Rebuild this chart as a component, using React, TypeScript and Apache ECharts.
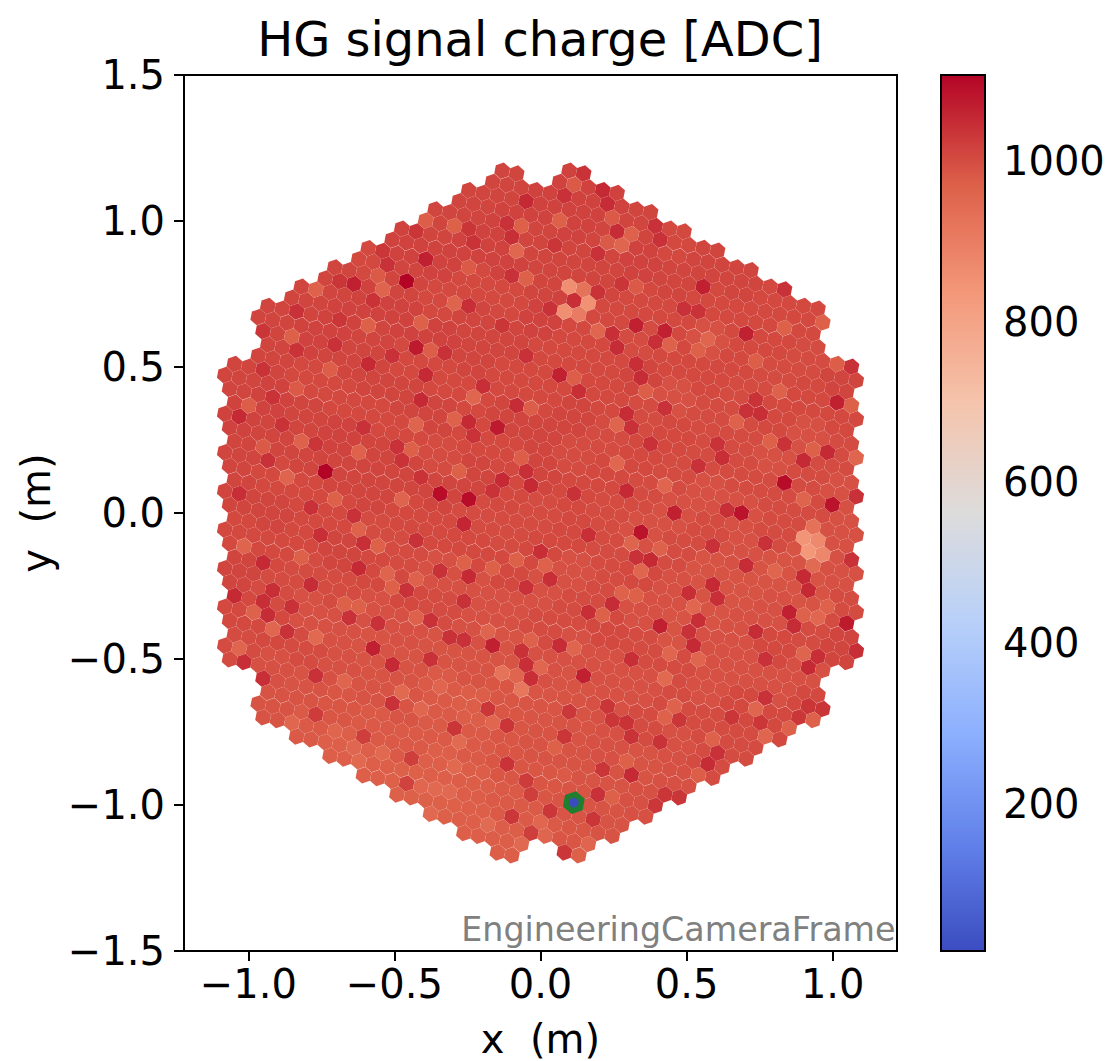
import React, { useEffect, useRef } from "react";
import * as echarts from "echarts";

const TITLE = "HG signal charge [ADC]";
const FRAME_LABEL = "EngineeringCameraFrame";
const X_TICKS = [-1, -0.5, 0, 0.5, 1];
const Y_TICKS = [-1.5, -1, -0.5, 0, 0.5, 1, 1.5];
const BAR_TICKS = [200, 400, 600, 800, 1000];
const VMIN = 17;
const VMAX = 1107;
const COOLWARM: [number, string][] = [
  [0, "#3b4cc0"], [0.125, "#6282ea"], [0.25, "#8db0fe"], [0.375, "#b8d0f9"], [0.5, "#dddcdc"],
  [0.625, "#f5c4ac"], [0.75, "#f4987a"], [0.875, "#dd6049"], [1, "#b40426"],
];

// Regional tone of each 7-pixel camera module, column by column (left to right), top to bottom.
const moduleLevelColumns: number[][] = [
  [1010,1015,1010,1010,1005,1010,1005,1000],
  [1010,1010,1015,1010,1005,1010,1005,1000,1005,995,990],
  [1010,1015,1005,1010,1010,1005,1005,1000,995,1000,990,980],
  [1010,1015,1010,1005,1015,1010,1005,1010,1000,995,995,985,972],
  [1005,1015,1010,1010,1005,1010,1010,1000,1005,995,990,990,980,972],
  [1015,1010,1015,1005,1010,1005,1010,1005,1000,1005,995,990,988,980,970],
  [1010,1015,1005,1015,1005,1010,1000,1010,1005,995,1000,990,980,980,972,970],
  [1010,1015,1005,1010,1010,1005,1005,1010,1000,1005,995,995,990,975,980,975,972],
  [1010,1015,1015,1005,1010,1005,1010,1005,1005,1000,1005,995,990,985,985,985,980,975],
  [1015,1010,1010,1015,1005,1005,1010,1010,1000,1005,995,1000,995,988,990,985,980],
  [1015,1015,1010,1015,1005,1005,1010,1000,1005,1005,995,1000,995,990,990,990,988,985],
  [1015,1010,1010,1005,1005,1005,1000,1005,1000,1000,1000,1005,995,995,995,990,990],
  [1010,1015,1005,1000,1010,1000,1005,1000,995,1005,995,1000,995,1000,990,995],
  [1005,1010,1005,1005,995,1005,1000,995,1000,995,990,1000,1000,995,995],
  [1010,1005,995,1005,1000,1000,995,1000,990,990,995,995,1000,1000],
  [1010,1005,1005,1000,1000,1000,995,995,990,995,995,1005,1000],
  [1005,1005,1000,1005,995,1000,1000,990,995,1005,995,1005],
  [1005,1000,1005,995,1000,1000,990,990,1000,995,1005],
  [1010,1005,1000,995,995,995,1000,1010],
];

// Individually read cells that stand out: [x (m), y (m), charge (ADC)].
const readingsTopLeft: number[][] = [
  [-.639,.784,1065],[-.458,.792,1107],[-.391,.87,1065],[-.523,.849,1040],[-.049,1.067,1052],[-.097,.944,1045],
  [-.228,.927,1038],[-.245,.975,1035],[-.114,.992,1040],[-.425,.964,1035],[-.54,.897,1032],[-.687,.792,1035],
  [-.833,.69,1040],[-.097,.813,1040],[-.245,.71,1045],[-.571,.727,1038],[-.686,.661,1035],[-.131,.644,1035],
  [-.948,.624,1035],[-.767,.764,965],[-.54,.764,960],[-.293,.984,970],[-.394,1.004,975],[-.065,.984,970],
  [-.082,.898,955],[-.049,.804,970],[-.293,.718,960],[-.409,.653,970],[-.588,.644,970],[-.556,.813,980],
  [-.243,.84,980],[-.85,.612,970],
];
const readingsTopRight: number[][] = [
  [.148,1.163,1038],[.215,1.106,1052],[.082,1.087,1040],[.231,1.058,1048],[.114,1.126,980],[.065,1.004,970],
  [.245,1.013,980],[.263,.965,1048],[.311,.956,965],[.394,.984,1040],[.409,.935,1040],[.28,.916,958],
  [.231,.927,980],[.196,.889,1040],[.049,.916,1035],[.557,.775,1065],[.493,.701,1040],[.54,.69,1038],
  [.329,.642,1065],[.426,.623,1065],[.704,.615,1065],[.576,.604,965],[.837,.632,970],[.968,.652,970],
  [.837,.766,1040],[.197,.756,1038],[.28,.784,1035],[.328,.775,980],[.114,.727,1045],[.034,.699,1040],
  [.098,.775,860],[.148,.766,925],[.166,.718,850],[.082,.69,860],[.131,.68,905],[.196,.625,958],[.245,.619,1045],
];
const readingsUpperLeft: number[][] = [
  [-.425,.567,1075],[-.374,.558,975],[-.588,.51,1052],[-.506,.538,1040],[-.391,.472,1052],[-.409,.387,1052],
  [-.425,.303,960],[-.293,.321,965],[-.228,.396,958],[-.196,.434,1045],[-.245,.31,1052],[-.146,.293,1075],
  [-.082,.367,1048],[-.049,.538,1040],[-.325,.549,1040],[-.833,.558,1038],[-.702,.575,1040],[-.95,.492,1038],
  [-.915,.396,1038],[-1.03,.329,1052],[-.999,.367,975],[-.605,.293,1040],[-.885,.301,1038],[-.816,.246,965],
  [-.95,.227,980],[-.767,.236,1035],[-.488,.227,1040],[-.62,.207,965],[-.442,.218,970],[-.736,.141,1107],
  [-.865,.122,960],[-.932,.179,1040],[-.474,.179,1038],[-.342,.067,1095],[-.245,.046,1095],[-.131,.113,1052],
  [-.049,.141,1045],[-.032,.093,1052],[-1.03,.065,1045],[-.474,.046,960],[-.785,.018,1040],[-.637,-.004,1040],
  [-.702,.046,970],[-.833,.424,980],[-.719,.489,975],[-.276,.141,970],[-.063,.19,975],[-.032,.358,975],
  [-.407,.122,1038],[-.16,.073,1038],[-.228,.263,1038],
];
const readingsUpperRight: number[][] = [
  [.066,.472,1065],[.114,.463,975],[.131,.415,1045],[.263,.567,1048],[.394,.583,1045],[.443,.575,965],
  [.574,.586,958],[.542,.558,970],[.329,.51,1045],[.345,.463,1048],[.263,.301,960],[.295,.339,1048],
  [.312,.293,1040],[.428,.358,1040],[.705,.349,1040],[.753,.341,1045],[.739,.387,1038],[1.016,.377,1065],
  [.82,.415,965],[.837,.235,1038],[.622,.19,1045],[.605,.235,1038],[.379,.236,1040],[.263,.17,955],
  [.674,.312,965],[.982,.207,1052],[.902,.179,1052],[1.081,.19,958],[.934,.218,970],[.836,.103,1095],
  [.999,.027,1085],[.902,.046,960],[.687,-.001,1085],[.46,-.001,1065],[1.081,.055,1040],[.295,.075,1052],
  [.428,.093,958],[.539,.16,1040],[.114,.067,1040],[.639,.01,1045],[1.065,.503,1040],[1.016,.51,975],
  [1.065,.358,970],[.788,.246,970],[.719,.518,975],[.362,.415,975],
];
const readingsLowerLeft: number[][] = [
  [-.948,-.17,1052],[-.785,-.247,1048],[-.62,-.19,1052],[-.525,-.207,960],[-.917,-.266,1045],[-1.047,-.284,1052],
  [-.948,-.301,1045],[-.932,-.352,1048],[-.982,-.34,965],[-.85,-.321,1040],[-.917,-.397,955],[-.767,-.426,950],
  [-.865,-.406,1040],[-.571,-.463,1065],[-.162,-.455,1065],[-.504,-.521,1052],[-.179,-.406,960],[-.131,-.549,925],
  [-.065,-.604,915],[-.08,-.553,958],[-.474,-.614,950],[-.342,-.595,958],[-.032,-.568,1045],[-.049,-.515,1045],
  [-.063,-.473,1040],[-.245,-.218,1052],[-.26,-.041,1058],[-.605,-.104,1045],[-.751,-.075,1045],[-.62,-.056,965],
  [-1.012,-.113,960],[-.556,-.113,970],[-.816,-.153,970],[-.425,-.095,1040],[-.456,-.264,1040],[-.342,-.198,1040],
  [-.049,-.256,1040],[-.374,-.366,1040],[-.26,-.301,1040],[-.031,-.435,965],[-1.03,-.463,958],[-.67,-.315,970],
  [-.62,-.323,970],[-.522,-.258,970],[-.424,-.227,965],[-.424,-.358,965],[-.653,-.361,1040],[-.556,-.378,1040],
  [-1.014,-.511,1045],[-.308,-.426,1040],[-.26,-.435,1040],[-.378,-.501,1040],[-.767,-.555,1040],[-.947,-.566,1045],
  [-.67,-.578,958],[-.26,-.167,970],[-.162,-.19,970],[-.08,-.161,970],
];
const readingsLowerRight: number[][] = [
  [.345,-.066,1085],[.166,-.075,1045],[.009,-.132,1045],[.312,-.104,960],[.377,-.161,1052],[.329,-.153,1040],
  [.411,-.124,965],[.59,-.113,1040],[.771,-.104,1040],[.902,-.083,845],[.951,-.092,870],[.919,-.132,835],
  [.968,-.142,875],[.936,-.045,930],[.936,-.182,945],[.705,-.178,1048],[.802,-.199,958],[.345,-.199,958],
  [.59,-.244,1052],[.902,-.218,1052],[.919,-.266,1052],[.508,-.275,1045],[.608,-.292,1045],[.245,-.313,1048],
  [.166,-.34,1045],[.28,-.275,965],[.329,-.284,970],[.525,-.323,955],[.853,-.34,1065],[.902,-.352,965],
  [.951,-.358,955],[1.048,-.378,1075],[.868,-.387,1048],[.411,-.387,1065],[.54,-.369,1045],[.51,-.406,1040],
  [.739,-.406,1048],[.525,-.456,1052],[.116,-.463,958],[.066,-.452,1048],[.443,-.481,958],[.542,-.498,958],
  [.902,-.481,960],[.951,-.486,1045],[.917,-.53,1052],[.148,-.557,1065],[.426,-.569,950],[.771,-.501,1040],
  [.312,-.501,1045],[1.081,-.473,1045],[.017,-.182,965],[.034,-.227,1045],[.213,-.353,970],[.984,-.323,965],
  [1.065,-.163,1040],[.771,-.626,1040],[.009,-.526,955],
];
const readingsBottomLeft: number[][] = [
  [-.506,-.654,1040],[-.767,-.691,1025],[-.293,-.737,1035],[-.114,-.726,1035],[-.179,-.669,1032],[-.85,-.716,955],
  [-.277,-.783,945],[-.114,-.859,1038],[-.442,-.84,1020],[-.605,-.763,1020],[-.097,-1.04,1032],[-.032,-.963,1020],
  [-.032,-1.097,1020],[-.179,-1.066,945],[-.539,-.82,950],[-.637,-.8,955],[-.702,-.745,958],[-.62,-.849,950],
  [-.359,-.943,948],[-.31,-.954,948],[-.457,-.925,1015],[-.377,-1.028,948],[-.065,-1.133,948],[-.293,-.868,950],
  [-.409,-.672,955],[-.162,-.716,955],[-.048,-.914,1025],[-.407,-.929,955],
];
const readingsBottomRight: number[][] = [
  [.082,-.763,1035],[.295,-.718,1038],[.245,-.708,1032],[.312,-.763,1038],[.228,-.661,1035],[.1,-.678,1030],
  [.409,-.783,1038],[.196,-.963,1040],[.311,-.897,1052],[.213,-.877,1035],[.18,-1.048,1035],[.082,-1.162,1032],
  [.574,-.859,1048],[.607,-.82,1040],[.477,-.708,1032],[.654,-.699,1035],[.736,-.672,958],[.771,-.763,958],
  [.427,-.699,965],[.46,-.657,965],[.591,-.774,965],[.034,-1.02,1032],[.394,-1.002,1032],[.428,-.963,1035],
  [.477,-.973,1035],[.967,-.672,1035],[.917,-.663,1035],[.885,-.699,1032],[.753,-.718,1032],[.542,-.9,975],
  [.85,-.737,965],[.934,-.708,965],[.297,-.849,970],[.006,-1.068,955],[.017,-1.106,958],[.166,-1.133,958],
  [.131,-1.173,970],[.245,-.973,970],[.082,-.897,980],[.049,-.802,970],
];
const highlightedCell = [0.114, -0.992, 17];

const PITCH = 0.05;
const TILT = (10.89 * Math.PI) / 180;
const HEX_R = (PITCH / Math.sqrt(3)) * 0.997;
const A1 = [PITCH * Math.cos(TILT), -PITCH * Math.sin(TILT)];
const A2 = [PITCH * Math.cos(Math.PI / 3 - TILT), PITCH * Math.sin(Math.PI / 3 - TILT)];
const FLOWER = [[0, 0], [1, 0], [0, 1], [-1, 1], [-1, 0], [0, -1], [1, -1]];

function buildCells(): number[][] {
  const cells: number[][] = [];
  moduleLevelColumns.forEach((levels, k) => {
    const c = k - 9;
    const corner = Math.abs(c) === 9 || c === 0;
    let d = -(18 - Math.abs(c)) + (corner ? 2 : 0);
    levels.forEach((level) => {
      const u = (c + d) / 2;
      const v = (c - d) / 2;
      const ci = 3 * u + v;
      const cj = -u + 2 * v;
      FLOWER.forEach(([di, dj]) => {
        const i = ci + di;
        const j = cj + dj;
        cells.push([i * A1[0] + j * A2[0], i * A1[1] + j * A2[1], level]);
      });
      d += 2;
    });
  });
  const nearest = (x: number, y: number) => {
    let best = cells[0];
    let bd = Infinity;
    for (const cell of cells) {
      const dd = (cell[0] - x) ** 2 + (cell[1] - y) ** 2;
      if (dd < bd) { bd = dd; best = cell; }
    }
    return best;
  };
  [readingsTopLeft, readingsTopRight, readingsUpperLeft, readingsUpperRight, readingsLowerLeft,
    readingsLowerRight, readingsBottomLeft, readingsBottomRight].forEach((list) =>
    list.forEach(([x, y, value]) => { nearest(x, y)[2] = value; }));
  return cells;
}

const colorOf = (value: number) => {
  const t = Math.min(1, Math.max(0, (value - VMIN) / (VMAX - VMIN)));
  for (let s = 1; s < COOLWARM.length; s++) {
    if (t <= COOLWARM[s][0]) {
      const f = (t - COOLWARM[s - 1][0]) / (COOLWARM[s][0] - COOLWARM[s - 1][0]);
      return echarts.color.lerp(f, [COOLWARM[s - 1][1], COOLWARM[s][1]]) as string;
    }
  }
  return COOLWARM[COOLWARM.length - 1][1];
};

const hexPoints = (api: any, x: number, y: number) => {
  const pts: number[][] = [];
  for (let k = 0; k < 6; k++) {
    const a = -TILT + Math.PI / 6 + (k * Math.PI) / 3;
    pts.push(api.coord([x + HEX_R * Math.cos(a), y + HEX_R * Math.sin(a)]));
  }
  return pts;
};

const FONT = "DejaVu Sans";
const signed = (v: number, digits: number) =>
  (v < 0 ? "\u2212" : "") + Math.abs(v).toFixed(digits);

export default function App() {
  const ref = useRef<HTMLDivElement>(null);
  useEffect(() => {
    const chart = echarts.init(ref.current!, undefined, { renderer: "svg" });
    const label = { color: "#000", fontFamily: FONT, fontSize: 40 };
    const tick = { show: true, length: 10, inside: false, lineStyle: { color: "#000", width: 2 } };
    const line = { show: true, onZero: false, lineStyle: { color: "#000", width: 2 } };
    chart.setOption({
      animation: false,
      backgroundColor: "#fff",
      title: {
        text: TITLE, left: 535, top: 10, textAlign: "center",
        textStyle: { fontFamily: FONT, fontSize: 47.9, fontWeight: "normal", color: "#000" },
      },
      grid: [
        { left: 184, top: 75, width: 713, height: 876, outerBoundsMode: "none", show: true, borderColor: "#000", borderWidth: 2, backgroundColor: "#fff" },
        { left: 941, top: 75, width: 44, height: 876, outerBoundsMode: "none" },
      ],
      xAxis: [
        {
          gridIndex: 0, type: "value", min: -1.22, max: 1.22, splitLine: { show: false },
          axisLine: line, axisTick: { ...tick, customValues: X_TICKS },
          axisLabel: { ...label, margin: 13, customValues: X_TICKS, formatter: (v: number) => signed(v, 1) },
          name: "x  (m)", nameLocation: "middle", nameGap: 68,
          nameTextStyle: { fontFamily: FONT, fontSize: 40, color: "#000" },
        },
        { gridIndex: 1, type: "value", min: 0, max: 1, show: false },
      ],
      yAxis: [
        {
          gridIndex: 0, type: "value", min: -1.5, max: 1.5, splitLine: { show: false },
          axisLine: line, axisTick: { ...tick, customValues: Y_TICKS },
          axisLabel: { ...label, margin: 19, customValues: Y_TICKS, formatter: (v: number) => signed(v, 1) },
          name: "y  (m)", nameLocation: "middle", nameGap: 128, nameRotate: 90,
          nameTextStyle: { fontFamily: FONT, fontSize: 40, color: "#000" },
        },
        {
          gridIndex: 1, type: "value", position: "right", min: VMIN, max: VMAX, splitLine: { show: false },
          axisLine: { show: false }, axisTick: { ...tick, customValues: BAR_TICKS },
          axisLabel: { ...label, margin: 18, customValues: BAR_TICKS, formatter: (v: number) => String(v) },
        },
      ],
      series: [
        {
          type: "custom", xAxisIndex: 0, yAxisIndex: 0, silent: true, clip: false,
          data: buildCells(),
          renderItem: (_: any, api: any) => ({
            type: "polygon",
            shape: { points: hexPoints(api, api.value(0), api.value(1)) },
            style: { fill: colorOf(api.value(2)) },
          }),
        },
        {
          type: "custom", xAxisIndex: 0, yAxisIndex: 0, silent: true, z: 3,
          data: [highlightedCell],
          renderItem: (_: any, api: any) => ({
            type: "polygon",
            shape: { points: hexPoints(api, api.value(0), api.value(1)) },
            style: { fill: colorOf(api.value(2)), stroke: "#1f7f2f", lineWidth: 5.5 },
          }),
        },
        {
          type: "custom", xAxisIndex: 1, yAxisIndex: 1, silent: true, clip: false,
          data: [[0, VMIN, 1, VMAX]],
          renderItem: (_: any, api: any) => {
            const a = api.coord([api.value(0), api.value(3)]);
            const b = api.coord([api.value(2), api.value(1)]);
            return {
              type: "rect",
              shape: { x: a[0], y: a[1], width: b[0] - a[0], height: b[1] - a[1] },
              style: {
                stroke: "#000", lineWidth: 2,
                fill: new echarts.graphic.LinearGradient(0, 0, 0, 1,
                  COOLWARM.map(([o, color]) => ({ offset: 1 - o, color })).reverse()),
              },
            };
          },
        },
      ],
      graphic: [
        {
          type: "text", right: 216.5, top: 913, z: 10, silent: true,
          style: { text: FRAME_LABEL, fontFamily: FONT, fontSize: 33.3, fill: "#808080" },
        },
      ],
    });
    return () => chart.dispose();
  }, []);
  return <div ref={ref} style={{ position: "fixed", left: 0, top: 0, width: 1112, height: 1061 }} />;
}
